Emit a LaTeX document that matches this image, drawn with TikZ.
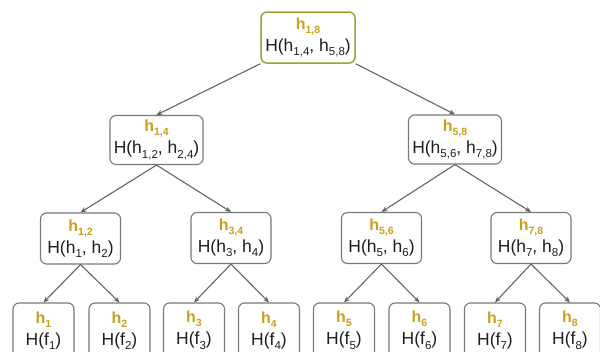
\documentclass[tikz,border=0pt]{standalone}
\usepackage{fontspec}
\setmainfont{Liberation Sans}
\usetikzlibrary{arrows.meta}
\definecolor{gold}{RGB}{200,160,28}
\definecolor{boxgray}{RGB}{120,120,120}
\definecolor{arrgray}{RGB}{100,100,100}
\definecolor{rootgreen}{RGB}{140,172,48}
\definecolor{txt}{RGB}{30,30,30}
\newcommand\lo[1]{\raisebox{-4.5pt}{\fontsize{11.5}{11.5}\selectfont #1}}
\newcommand\hlo[1]{\raisebox{-4pt}{\fontsize{10.5}{10.5}\selectfont\bfseries #1}}
\newcommand\hl[1]{{\color{gold}\fontsize{16}{22}\selectfont\bfseries h\hlo{#1}}}
\tikzset{
  hbox/.style={draw=boxgray, line width=1.1pt, rounded corners=6pt, inner sep=0pt,
    align=center, text=txt, font=\fontsize{17.5}{22}\selectfont},
  rootbox/.style={hbox, draw=rootgreen, line width=1.5pt, minimum width=94pt, minimum height=51pt},
  lone/.style={hbox, minimum width=93pt, minimum height=49pt},
  ltwo/.style={hbox, minimum width=80pt, minimum height=51pt},
  leaf/.style={hbox, minimum width=61pt, minimum height=55pt},
  conn/.style={draw=arrgray, line width=1.1pt, -{Stealth[length=6pt,width=5pt]}}
}
\begin{document}
\begin{tikzpicture}[x=1pt,y=-1pt]
\useasboundingbox (0,0) rectangle (600,351);
\clip (0,0) rectangle (600,351);
\node[rootbox] (r) at (308,37.5) {\hl{1,8}\\H(h\lo{1,4}, h\lo{5,8})};
\node[lone] (a) at (156.5,140) {\hl{1,4}\\H(h\lo{1,2}, h\lo{2,4})};
\node[lone] (b) at (455,139.5) {\hl{5,8}\\H(h\lo{5,6}, h\lo{7,8})};
\node[ltwo] (c1) at (80.5,238.5) {\hl{1,2}\\H(h\lo{1}, h\lo{2})};
\node[ltwo] (c2) at (231,238) {\hl{3,4}\\H(h\lo{3}, h\lo{4})};
\node[ltwo] (c3) at (381.5,238) {\hl{5,6}\\H(h\lo{5}, h\lo{6})};
\node[ltwo] (c4) at (531,238) {\hl{7,8}\\H(h\lo{7}, h\lo{8})};
\node[leaf] (d1) at (43.5,330.5) {\hl{1}\\H(f\lo{1})};
\node[leaf] (d2) at (119.5,330.5) {\hl{2}\\H(f\lo{2})};
\node[leaf] (d3) at (194,330.5) {\hl{3}\\H(f\lo{3})};
\node[leaf] (d4) at (269,330.5) {\hl{4}\\H(f\lo{4})};
\node[leaf] (d5) at (344,330.5) {\hl{5}\\H(f\lo{5})};
\node[leaf] (d6) at (419.5,330.5) {\hl{6}\\H(f\lo{6})};
\node[leaf] (d7) at (495,330.5) {\hl{7}\\H(f\lo{7})};
\node[leaf] (d8) at (570,330.5) {\hl{8}\\H(f\lo{8})};
\draw[conn] (r.south west) -- (a.north);
\draw[conn] (r.south east) -- (b.north);
\draw[conn] (a.south) -- (c1.north);
\draw[conn] (a.south) -- (c2.north);
\draw[conn] (b.south) -- (c3.north);
\draw[conn] (b.south) -- (c4.north);
\draw[conn] (c1.south) -- (d1.north);
\draw[conn] (c1.south) -- (d2.north);
\draw[conn] (c2.south) -- (d3.north);
\draw[conn] (c2.south) -- (d4.north);
\draw[conn] (c3.south) -- (d5.north);
\draw[conn] (c3.south) -- (d6.north);
\draw[conn] (c4.south) -- (d7.north);
\draw[conn] (c4.south) -- (d8.north);
\end{tikzpicture}
\end{document}
